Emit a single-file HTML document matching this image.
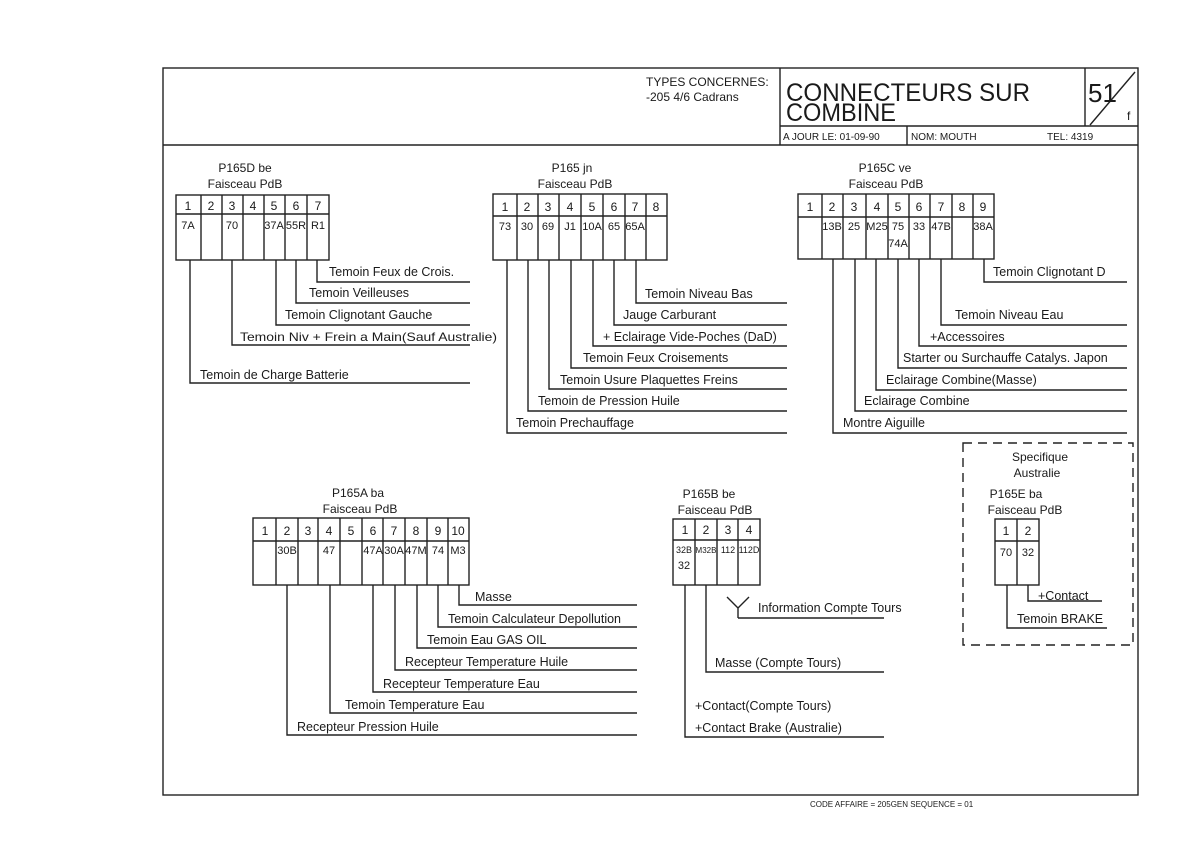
<!DOCTYPE html>
<html><head><meta charset="utf-8"><style>
html,body{margin:0;padding:0;background:#fff;}
svg{display:block;}
text{font-family:"Liberation Sans",sans-serif;fill:#1a1a1a;}
.l{font-size:12.5px;}
.c{font-size:12px;text-anchor:middle;}
.v{font-size:11px;text-anchor:middle;}
</style></head><body>
<svg width="1200" height="860" viewBox="0 0 1200 860" xmlns="http://www.w3.org/2000/svg">
<g stroke="#222" stroke-width="1.4" fill="none">
<rect x="163" y="68" width="975" height="727"/>
<line x1="163" y1="145" x2="1138" y2="145"/>
<line x1="780" y1="68" x2="780" y2="145"/>
<line x1="780" y1="126" x2="1138" y2="126"/>
<line x1="907" y1="126" x2="907" y2="145"/>
<line x1="1085" y1="68" x2="1085" y2="126"/>
<line x1="1090" y1="125" x2="1135" y2="72"/>

<rect x="176" y="195" width="153" height="65"/>
<line x1="176" y1="214" x2="329" y2="214"/>
<path d="M201 195V260M222 195V260M243 195V260M264 195V260M285 195V260M307 195V260"/>
<path d="M190 260V383H470M232 260V345H470M276 260V325H470M296 260V303H470M317 260V282H470"/>

<rect x="493" y="194" width="174" height="66"/>
<line x1="493" y1="216" x2="667" y2="216"/>
<path d="M517 194V260M538 194V260M559 194V260M581 194V260M603 194V260M625 194V260M646 194V260"/>
<path d="M507 260V433H787M528 260V411H787M549 260V389H787M571 260V368H787M593 260V346H787M614 260V325H787M636 260V303H787"/>

<rect x="798" y="194" width="196" height="65"/>
<line x1="798" y1="217" x2="994" y2="217"/>
<path d="M822 194V259M843 194V259M866 194V259M888 194V259M909 194V259M930 194V259M952 194V259M973 194V259"/>
<path d="M833 259V433H1127M855 259V411H1127M876 259V390H1127M898 259V368H1127M919 259V346H1127M941 259V325H1127M984 259V282H1127"/>

<rect x="253" y="518" width="216" height="67"/>
<line x1="253" y1="541" x2="469" y2="541"/>
<path d="M276 518V585M298 518V585M318 518V585M340 518V585M362 518V585M383 518V585M405 518V585M427 518V585M448 518V585"/>
<path d="M287 585V735H637M330 585V713H637M373 585V692H637M395 585V670H637M417 585V648H637M438 585V627H637M459 585V605H637"/>

<rect x="673" y="519" width="87" height="66"/>
<line x1="673" y1="540" x2="760" y2="540"/>
<path d="M695 519V585M717 519V585M738 519V585"/>
<path d="M685 585V737H884M706 585V672H884M738 618H884M738 618V608M727 597L738 608L749 597"/>

<rect x="963" y="443" width="170" height="202" stroke-dasharray="9,6"/>
<rect x="995" y="519" width="44" height="66"/>
<line x1="995" y1="541" x2="1039" y2="541"/>
<line x1="1017" y1="519" x2="1017" y2="585"/>
<path d="M1007 585V628H1107M1028 585V601H1102"/>
</g>

<text x="646" y="86" style="font-size:12px">TYPES CONCERNES:</text>
<text x="646" y="101" style="font-size:12px">-205 4/6 Cadrans</text>
<text x="786" y="101" style="font-size:25px" textLength="244" lengthAdjust="spacingAndGlyphs">CONNECTEURS SUR</text>
<text x="786" y="121" style="font-size:25px" textLength="110" lengthAdjust="spacingAndGlyphs">COMBINE</text>
<text x="783" y="140" style="font-size:10px">A JOUR LE:  01-09-90</text>
<text x="911" y="140" style="font-size:10px">NOM:  MOUTH</text>
<text x="1047" y="140" style="font-size:10px">TEL:   4319</text>
<text x="1088" y="102" style="font-size:26px">51</text>
<text x="1127" y="120" style="font-size:12px">f</text>
<text x="810" y="807" style="font-size:8px">CODE AFFAIRE = 205GEN SEQUENCE = 01</text>

<text x="245" y="172" class="c">P165D be</text>
<text x="245" y="188" class="c">Faisceau PdB</text>
<text x="188" y="210" class="c">1</text><text x="211" y="210" class="c">2</text><text x="232" y="210" class="c">3</text><text x="253" y="210" class="c">4</text><text x="274" y="210" class="c">5</text><text x="296" y="210" class="c">6</text><text x="318" y="210" class="c">7</text>
<text x="188" y="229" class="v">7A</text><text x="232" y="229" class="v">70</text><text x="274" y="229" class="v">37A</text><text x="296" y="229" class="v">55R</text><text x="318" y="229" class="v">R1</text>
<text x="329" y="276" class="l">Temoin Feux de Crois.</text>
<text x="309" y="297" class="l">Temoin Veilleuses</text>
<text x="285" y="319" class="l">Temoin Clignotant Gauche</text>
<text x="240" y="341" style="font-size:12px" textLength="257" lengthAdjust="spacingAndGlyphs">Temoin Niv + Frein a Main(Sauf Australie)</text>
<text x="200" y="379" class="l">Temoin de Charge Batterie</text>

<text x="572" y="172" class="c">P165 jn</text>
<text x="575" y="188" class="c">Faisceau PdB</text>
<text x="505" y="211" class="c">1</text><text x="527" y="211" class="c">2</text><text x="548" y="211" class="c">3</text><text x="570" y="211" class="c">4</text><text x="592" y="211" class="c">5</text><text x="614" y="211" class="c">6</text><text x="635" y="211" class="c">7</text><text x="656" y="211" class="c">8</text>
<text x="505" y="230" class="v">73</text><text x="527" y="230" class="v">30</text><text x="548" y="230" class="v">69</text><text x="570" y="230" class="v">J1</text><text x="592" y="230" class="v">10A</text><text x="614" y="230" class="v">65</text><text x="635" y="230" class="v">65A</text>
<text x="645" y="298" class="l">Temoin Niveau Bas</text>
<text x="623" y="319" class="l">Jauge Carburant</text>
<text x="603" y="341" class="l">+ Eclairage Vide-Poches (DaD)</text>
<text x="583" y="362" class="l">Temoin Feux Croisements</text>
<text x="560" y="384" class="l">Temoin Usure Plaquettes Freins</text>
<text x="538" y="405" class="l">Temoin de Pression Huile</text>
<text x="516" y="427" class="l">Temoin Prechauffage</text>

<text x="885" y="172" class="c">P165C ve</text>
<text x="886" y="188" class="c">Faisceau PdB</text>
<text x="810" y="211" class="c">1</text><text x="832" y="211" class="c">2</text><text x="854" y="211" class="c">3</text><text x="877" y="211" class="c">4</text><text x="898" y="211" class="c">5</text><text x="919" y="211" class="c">6</text><text x="941" y="211" class="c">7</text><text x="962" y="211" class="c">8</text><text x="983" y="211" class="c">9</text>
<text x="832" y="230" class="v">13B</text><text x="854" y="230" class="v">25</text><text x="877" y="230" class="v">M25</text><text x="898" y="230" class="v">75</text><text x="898" y="247" class="v">74A</text><text x="919" y="230" class="v">33</text><text x="941" y="230" class="v">47B</text><text x="983" y="230" class="v">38A</text>
<text x="993" y="276" class="l">Temoin Clignotant D</text>
<text x="955" y="319" class="l">Temoin Niveau Eau</text>
<text x="930" y="341" class="l">+Accessoires</text>
<text x="903" y="362" class="l">Starter ou Surchauffe Catalys. Japon</text>
<text x="886" y="384" class="l">Eclairage Combine(Masse)</text>
<text x="864" y="405" class="l">Eclairage Combine</text>
<text x="843" y="427" class="l">Montre Aiguille</text>

<text x="358" y="497" class="c">P165A ba</text>
<text x="360" y="513" class="c">Faisceau PdB</text>
<text x="265" y="535" class="c">1</text><text x="287" y="535" class="c">2</text><text x="308" y="535" class="c">3</text><text x="329" y="535" class="c">4</text><text x="351" y="535" class="c">5</text><text x="373" y="535" class="c">6</text><text x="394" y="535" class="c">7</text><text x="416" y="535" class="c">8</text><text x="438" y="535" class="c">9</text><text x="458" y="535" class="c">10</text>
<text x="287" y="554" class="v">30B</text><text x="329" y="554" class="v">47</text><text x="373" y="554" class="v">47A</text><text x="394" y="554" class="v">30A</text><text x="416" y="554" class="v">47M</text><text x="438" y="554" class="v">74</text><text x="458" y="554" class="v">M3</text>
<text x="475" y="601" class="l">Masse</text>
<text x="448" y="623" class="l">Temoin Calculateur Depollution</text>
<text x="427" y="644" class="l">Temoin Eau GAS OIL</text>
<text x="405" y="666" class="l">Recepteur Temperature Huile</text>
<text x="383" y="688" class="l">Recepteur Temperature Eau</text>
<text x="345" y="709" class="l">Temoin Temperature Eau</text>
<text x="297" y="731" class="l">Recepteur Pression Huile</text>

<text x="709" y="498" class="c">P165B be</text>
<text x="715" y="514" class="c">Faisceau PdB</text>
<text x="685" y="534" class="c">1</text><text x="706" y="534" class="c">2</text><text x="728" y="534" class="c">3</text><text x="749" y="534" class="c">4</text>
<text x="684" y="553" style="font-size:9px;text-anchor:middle">32B</text><text x="684" y="569" class="v">32</text>
<text x="706" y="553" style="font-size:8px;text-anchor:middle">M32B</text>
<text x="728" y="553" style="font-size:9px;text-anchor:middle">112</text>
<text x="749" y="553" style="font-size:9px;text-anchor:middle">112D</text>
<text x="758" y="612" class="l">Information Compte Tours</text>
<text x="715" y="667" class="l">Masse (Compte Tours)</text>
<text x="695" y="710" class="l">+Contact(Compte Tours)</text>
<text x="695" y="732" class="l">+Contact Brake (Australie)</text>

<text x="1040" y="461" class="c">Specifique</text>
<text x="1037" y="477" class="c">Australie</text>
<text x="1016" y="498" class="c">P165E ba</text>
<text x="1025" y="514" class="c">Faisceau  PdB</text>
<text x="1006" y="535" class="c">1</text><text x="1028" y="535" class="c">2</text>
<text x="1006" y="556" class="v">70</text><text x="1028" y="556" class="v">32</text>
<text x="1038" y="600" class="l">+Contact</text>
<text x="1017" y="623" class="l">Temoin BRAKE</text>
</svg>
</body></html>
